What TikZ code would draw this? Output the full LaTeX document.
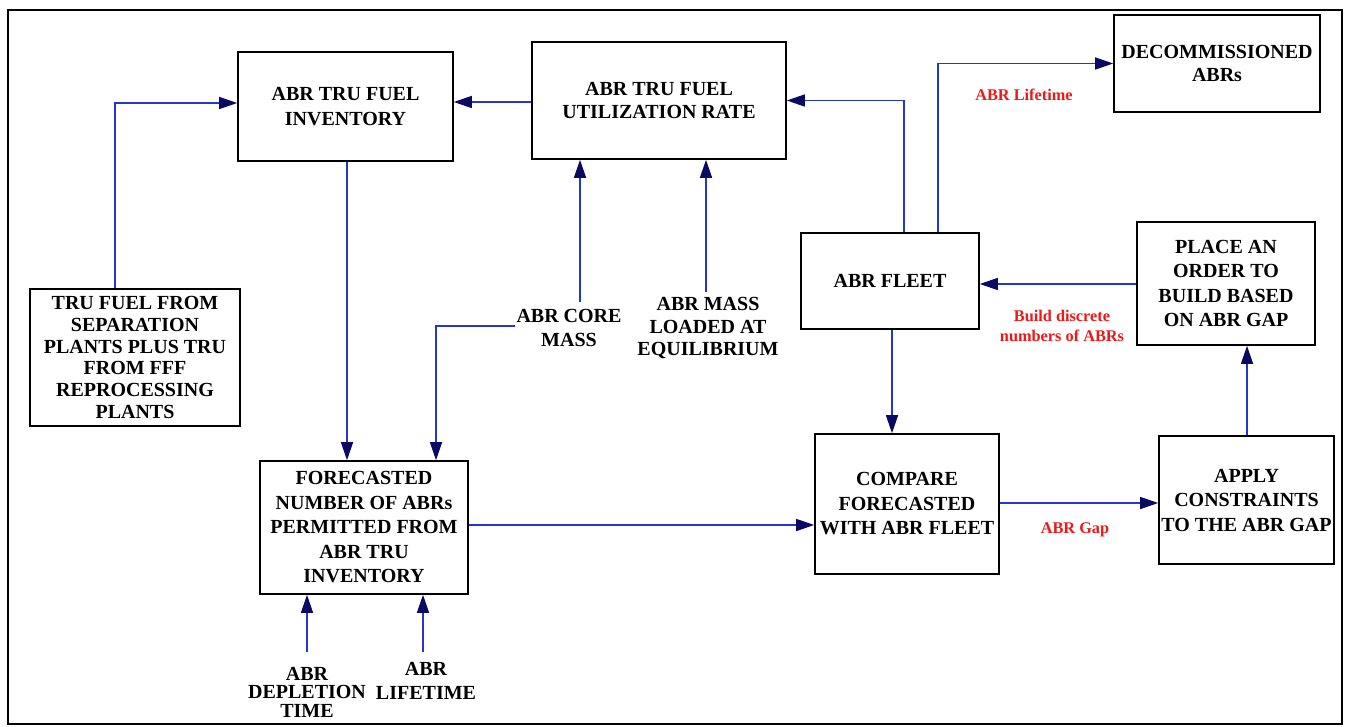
\documentclass[tikz,border=0pt]{standalone}
\usepackage{fontspec}
\setmainfont{Liberation Serif}
\usetikzlibrary{arrows.meta}
\definecolor{linkblue}{RGB}{35,55,205}
\definecolor{tipnavy}{RGB}{10,10,100}
\definecolor{labred}{RGB}{235,25,25}
\begin{document}
\begin{tikzpicture}[x=1pt,y=-1pt,
  box/.style={draw=black,line width=1.6pt,align=center,inner sep=0pt,
    font=\bfseries\fontsize{20}{24.5}\selectfont},
  freetext/.style={align=center,inner sep=1pt,
    font=\bfseries\fontsize{20}{24}\selectfont},
  redlab/.style={align=center,inner sep=0pt,text=labred,
    font=\bfseries\fontsize{16.3}{20}\selectfont},
  arr/.style={draw=linkblue,line width=1.4pt,
    -{Triangle[length=18pt,width=12pt,color=tipnavy]}}]
\useasboundingbox (0,0) rectangle (1349,727);
\fill[white] (0,0) rectangle (1349,727);
\draw[line width=1.6pt] (8,10) rectangle (1342,724);

% process boxes
\node[box,minimum width=215pt,minimum height=109pt] (inv) at (345.5,106.5)
  {ABR TRU FUEL\\INVENTORY};
\node[box,minimum width=254pt,minimum height=117pt,
  font=\bfseries\fontsize{20}{23}\selectfont] (util) at (659,100.5)
  {ABR TRU FUEL\\UTILIZATION RATE};
\node[box,minimum width=206pt,minimum height=97pt,
  font=\bfseries\fontsize{20}{23}\selectfont] (decom) at (1217,63.5)
  {DECOMMISSIONED\\ABRs};
\node[box,minimum width=178pt,minimum height=96pt] (fleet) at (890,281)
  {ABR FLEET};
\node[box,minimum width=178pt,minimum height=123pt] (place) at (1226,283.5)
  {PLACE AN\\ORDER TO\\BUILD BASED\\ON ABR GAP};
\node[box,minimum width=175pt,minimum height=128pt] (apply) at (1246.5,500)
  {APPLY\\CONSTRAINTS\\TO THE ABR GAP};
\node[box,minimum width=184pt,minimum height=140pt] (compare) at (907,504)
  {COMPARE\\FORECASTED\\WITH ABR FLEET};
\node[box,minimum width=208pt,minimum height=133pt] (fore) at (364,527.5)
  {FORECASTED\\NUMBER OF ABRs\\PERMITTED FROM\\ABR TRU\\INVENTORY};
\node[box,minimum width=210pt,minimum height=137pt,
  font=\bfseries\fontsize{20}{21.7}\selectfont] (tru) at (135,357.5)
  {TRU FUEL FROM\\SEPARATION\\PLANTS PLUS TRU\\FROM FFF\\REPROCESSING\\PLANTS};

% input quantities
\node[freetext] (core) at (569,328) {ABR CORE\\MASS};
\node[freetext,font=\bfseries\fontsize{20}{22}\selectfont] (load) at (708,328)
  {ABR MASS\\LOADED AT\\EQUILIBRIUM};
\node[freetext,font=\bfseries\fontsize{20}{18.5}\selectfont] (depl) at (307,692)
  {ABR\\DEPLETION\\TIME};
\node[freetext,font=\bfseries\fontsize{20}{24}\selectfont] (life) at (426,681)
  {ABR\\LIFETIME};

% link labels
\node[redlab] (lifelab) at (1024,95) {ABR Lifetime};
\node[redlab] (buildlab) at (1062,326) {Build discrete\\numbers of ABRs};
\node[redlab] (gaplab) at (1075,530) {ABR Gap};

% free ends of the input links
\coordinate (coreup) at (580,302);
\coordinate (loadup) at (706,292);
\coordinate (deplup) at (307,652);
\coordinate (lifeup) at (423,652);

% links
\draw[arr] ([xshift=-20pt]tru.north) |- (inv.west |- 0,103);
\draw[arr] (inv.south -| 347,0) -- (fore.north -| 347,0);
\draw[arr] (util.west |- 0,102) -- (inv.east |- 0,102);
\draw[arr] (fleet.north -| 904,0) |- (util.east);
\draw[arr] (fleet.north -| 938,0) |- (decom.west);
\draw[arr] (coreup) -- (util.south -| coreup);
\draw[arr] (loadup) -- (util.south -| loadup);
\draw[arr] (core.west |- 0,326) -| (fore.north -| 436,0);
\draw[arr] (fore.east |- 0,525) -- (compare.west |- 0,525);
\draw[arr] (fleet.south -| 892,0) -- (compare.north -| 892,0);
\draw[arr] (compare.east |- 0,503) -- (apply.west |- 0,503);
\draw[arr] (apply.north -| 1247,0) -- (place.south -| 1247,0);
\draw[arr] (place.west |- 0,284) -- (fleet.east |- 0,284);
\draw[arr] (deplup) -- (fore.south -| deplup);
\draw[arr] (lifeup) -- (fore.south -| lifeup);
\end{tikzpicture}
\end{document}
